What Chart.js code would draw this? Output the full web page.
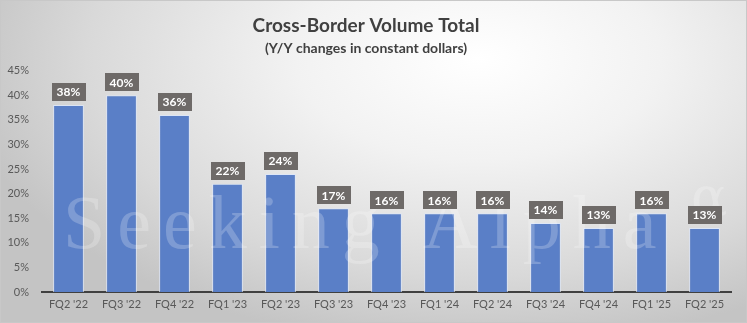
<!DOCTYPE html>
<html>
<head>
<meta charset="utf-8">
<script src="https://cdn.jsdelivr.net/npm/chart.js@4/dist/chart.umd.min.js"></script>
<style>
  html, body { margin: 0; padding: 0; }
  #wrap {
    width: 747px; height: 323px;
    background: radial-gradient(ellipse 70% 90% at 64% 18%, #ffffff 0%, #f2f2f2 35%, #d9d9d9 75%, #c4c4c4 100%);
    box-sizing: border-box; border: 1px solid #c8c8c8;
  }
</style>
</head>
<body>
<div id="wrap"><canvas id="chart" width="745" height="321"></canvas></div>
<script>
var quarters = ["FQ2 '22", "FQ3 '22", "FQ4 '22", "FQ1 '23", "FQ2 '23", "FQ3 '23", "FQ4 '23",
                "FQ1 '24", "FQ2 '24", "FQ3 '24", "FQ4 '24", "FQ1 '25", "FQ2 '25"];
var volumeGrowth = [38, 40, 36, 22, 24, 17, 16, 16, 16, 14, 13, 16, 13];
var yTicks = [0, 5, 10, 15, 20, 25, 30, 35, 40, 45];

var font = "Lato, 'Open Sans', sans-serif";

// gray value boxes above each bar
var valueBoxes = {
  id: "valueBoxes",
  afterDatasetsDraw: function(chart) {
    var ctx = chart.ctx;
    var meta = chart.getDatasetMeta(0);
    ctx.save();
    ctx.font = "bold 12px " + font;
    ctx.textAlign = "center";
    ctx.textBaseline = "middle";
    meta.data.forEach(function(bar, i) {
      var txt = volumeGrowth[i] + "%";
      var w = ctx.measureText(txt).width + 10;
      var h = 18;
      var bottom = bar.y - 4;
      ctx.fillStyle = "#6e6a68";
      ctx.fillRect(Math.round(bar.x - w / 2), Math.round(bottom - h), Math.round(w), h);
      ctx.fillStyle = "#ffffff";
      ctx.fillText(txt, bar.x, bottom - h / 2 + 0.5);
    });
    ctx.restore();
  }
};

// faint watermark across the plot
var watermark = {
  id: "watermark",
  afterDatasetsDraw: function(chart) {
    var ctx = chart.ctx;
    ctx.save();
    ctx.fillStyle = "rgba(255,255,255,0.22)";
    ctx.textAlign = "left";
    ctx.textBaseline = "alphabetic";
    ctx.font = "76px 'Liberation Serif', 'DejaVu Serif', serif";
    ctx.letterSpacing = "12px";
    ctx.fillText("Seeking Alpha", 62, 247);
    ctx.letterSpacing = "0px";
    ctx.font = "54px 'DejaVu Serif', serif";
    ctx.fillText("\u03b1", 690, 214);
    ctx.restore();
  }
};

window.chart = new Chart(document.getElementById("chart").getContext("2d"), {
  type: "bar",
  data: {
    labels: quarters,
    datasets: [{
      label: "Cross-Border Volume",
      data: volumeGrowth,
      backgroundColor: "#5a7fc7",
      borderColor: "rgba(220,230,248,0.9)",
      borderWidth: 1,
      barPercentage: 0.58,
      categoryPercentage: 1
    }]
  },
  options: {
    responsive: false,
    animation: false,
    devicePixelRatio: 1,
    layout: { padding: { left: 0, right: 15, top: 7, bottom: 0 } },
    plugins: {
      legend: { display: false },
      tooltip: { enabled: false },
      title: {
        display: true,
        text: "Cross-Border Volume Total",
        color: "#404040",
        font: { family: font, size: 19, weight: "bold" },
        padding: { top: 6, bottom: 3 }
      },
      subtitle: {
        display: true,
        text: "(Y/Y changes in constant dollars)",
        color: "#404040",
        font: { family: font, size: 14, weight: "bold" },
        padding: { bottom: 14 }
      }
    },
    scales: {
      x: {
        afterFit: function(axis) { axis.height = 30; },
        grid: { display: false, drawTicks: false },
        border: { display: true, color: "#404040", width: 2 },
        ticks: { color: "#595959", font: { family: font, size: 11 }, padding: 6, maxRotation: 0 }
      },
      y: {
        min: 0,
        max: 45,
        afterFit: function(axis) { axis.width = 41; },
        afterBuildTicks: function(axis) {
          axis.ticks = yTicks.map(function(v) { return { value: v }; });
        },
        grid: { display: false, drawTicks: false },
        border: { display: false },
        ticks: {
          color: "#595959",
          font: { family: font, size: 11 },
          padding: 13,
          callback: function(v) { return v + "%"; }
        }
      }
    }
  },
  plugins: [watermark, valueBoxes]
});
</script>
</body>
</html>
